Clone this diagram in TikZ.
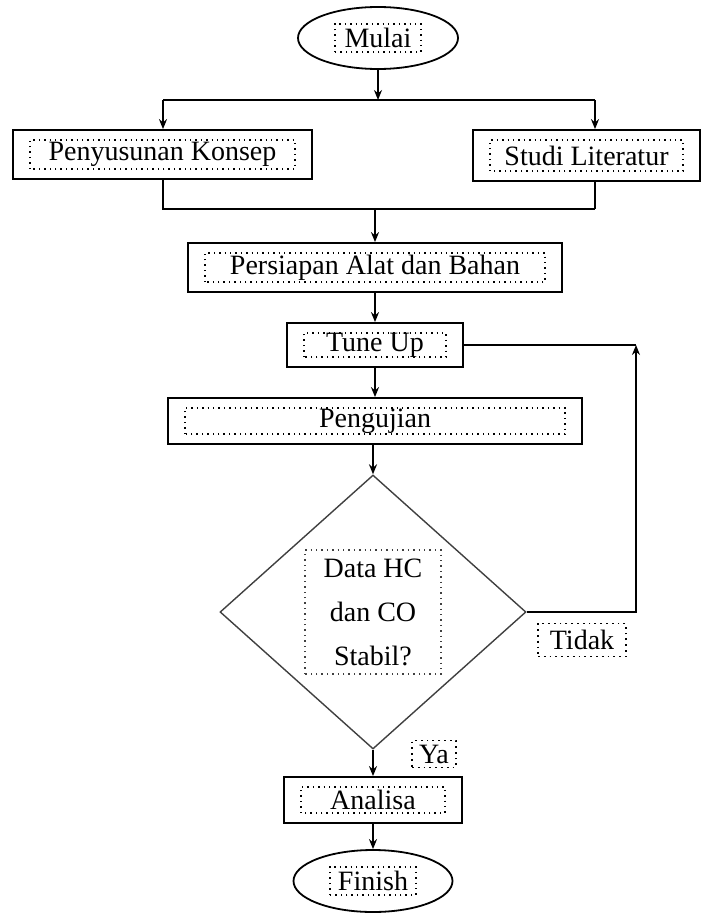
\documentclass[tikz,border=0pt]{standalone}
\usepackage{fontspec}
\setmainfont{Liberation Serif}
\usetikzlibrary{shapes.geometric,arrows.meta,positioning}
\tikzset{
  fc base/.style={font=\fontsize{14}{22}\selectfont, line width=0.9pt, inner sep=0pt, align=center},
  fc frame/.style 2 args={path picture={\draw[dotted, line width=0.7pt]
      ([shift={(-#1,-#2)}]path picture bounding box.center) rectangle
      ([shift={(#1,#2)}]path picture bounding box.center);}},
  fc box/.style={fc base, rectangle, draw,
    path picture={\draw[dotted, line width=0.7pt]
      ([shift={(8.5pt,5pt)}]path picture bounding box.south west) rectangle
      ([shift={(-8.5pt,-5pt)}]path picture bounding box.north east);}},
  fc terminal/.style={fc base, ellipse, draw, minimum width=80pt, minimum height=31pt, fc frame={21.5pt}{7pt}},
  fc decision/.style={fc base, diamond, draw=black!75, line width=0.7pt, minimum width=153pt, minimum height=137pt, fc frame={34pt}{31pt}},
  fc label/.style={fc base, draw, dotted, line width=0.7pt}
}
\begin{document}
\begin{tikzpicture}[x=0.5pt, y=-0.5pt, >={Stealth[length=5pt,width=4pt]}, line width=0.9pt]
    \useasboundingbox (0,0) rectangle (702,915);

    % Start
    \node [fc terminal] (mulai) at (378,38) {Mulai};

    % Two parallel steps
    \node [fc box, minimum width=149.5pt, minimum height=24.5pt] (konsep) at (162.5,154.5) {Penyusunan Konsep};
    \node [fc box, minimum width=113.5pt, minimum height=25.5pt] (studi) at (586.5,155.5) {Studi Literatur};
    \coordinate (splitL) at (163,100);
    \coordinate (splitR) at (595,100);
    \coordinate (joinR) at (595,209);
    \draw [->] (mulai) -- (mulai |- splitL);
    \draw (splitL) -- (splitR);
    \draw [->] (splitL) -- (splitL |- konsep.north);
    \draw [->] (splitR) -- (splitR |- studi.north);
    \draw (konsep.south -| splitL) |- (joinR);
    \draw (joinR |- studi.south) -- (joinR);

    % Main chain
    \node [fc box, minimum width=187pt, minimum height=24.5pt] (persiapan) at (375,267.5) {Persiapan Alat dan Bahan};
    \node [fc box, minimum width=88pt, minimum height=22pt] (tune) at (375,345) {Tune Up};
    \node [fc box, minimum width=207pt, minimum height=23pt] (uji) at (375,421) {Pengujian};
    \node [fc decision] (dec) at (373,612) {Data HC\\dan CO\\Stabil?};
    \node [fc box, minimum width=89pt, minimum height=23pt] (analisa) at (373,800) {Analisa};
    \node [fc terminal, minimum width=79.5pt] (finish) at (373,881) {Finish};

    \draw [->] (persiapan |- joinR) -- (persiapan);
    \draw [->] (persiapan) -- (tune);
    \draw [->] (tune) -- (tune |- uji.north);
    \draw [->] (dec.north |- uji.south) -- (dec.north);
    \draw [->] (dec.south) -- (analisa.north);
    \draw [->] (analisa) -- (finish);

    % Loop back
    \coordinate (back) at (636,345);
    \draw [->] (dec.east) -| (back);
    \draw (tune.east) -- (back);

    % Labels
    \node [fc label, minimum width=44pt, minimum height=16.5pt] (tidak) at (582,640) {Tidak};
    \node [fc label, minimum width=22pt, minimum height=13.5pt] (ya) at (434,754) {Ya};
\end{tikzpicture}
\end{document}
